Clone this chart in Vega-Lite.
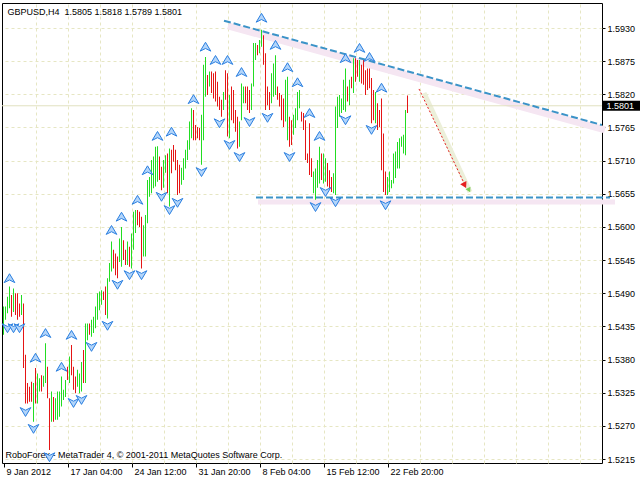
{
"$schema": "https://vega.github.io/schema/vega-lite/v6.json",
"width": 600, "height": 460,
"autosize": {"type": "none"},
"padding": {"left": 2, "top": 3, "right": 38, "bottom": 17},
"background": "white",
"config": {
  "view": {"stroke": "black", "strokeWidth": 1},
  "scale": {"continuousPadding": 0},
  "axis": {"labelFont": "Liberation Sans", "labelFontSize": 9, "labelColor": "black", "titleFont": "Liberation Sans", "titleFontSize": 9, "titleFontWeight": "normal", "titleColor": "black", "gridColor": "#e6e6c3", "gridDash": [3, 3], "gridOpacity": 1, "tickColor": "black", "domain": false}
},
"datasets": {
  "bars": [
{"i":0,"h":1.5468,"l":1.5421,"d":"u"},{"i":1,"h":1.5468,"l":1.5446,"d":"u"},{"i":2,"h":1.5484,"l":1.5457,"d":"u"},{"i":3,"h":1.5501,"l":1.5465,"d":"u"},{"i":4,"h":1.5487,"l":1.5451,"d":"d"},{"i":5,"h":1.5498,"l":1.5459,"d":"u"},{"i":6,"h":1.549,"l":1.5454,"d":"d"},{"i":7,"h":1.549,"l":1.5446,"d":"d"},{"i":8,"h":1.5473,"l":1.5451,"d":"d"},{"i":9,"h":1.5487,"l":1.5454,"d":"u"},
{"i":10,"h":1.5473,"l":1.5366,"d":"d"},{"i":11,"h":1.5388,"l":1.5307,"d":"d"},{"i":12,"h":1.5341,"l":1.5307,"d":"d"},{"i":13,"h":1.5335,"l":1.531,"d":"d"},{"i":14,"h":1.5343,"l":1.531,"d":"d"},{"i":15,"h":1.5341,"l":1.5277,"d":"u"},{"i":16,"h":1.5366,"l":1.5307,"d":"d"},{"i":17,"h":1.5357,"l":1.5307,"d":"u"},{"i":18,"h":1.5349,"l":1.5327,"d":"u"},{"i":19,"h":1.5354,"l":1.5327,"d":"d"},
{"i":20,"h":1.5353,"l":1.5335,"d":"u"},{"i":21,"h":1.5407,"l":1.5341,"d":"u"},{"i":22,"h":1.5368,"l":1.5316,"d":"d"},{"i":23,"h":1.5316,"l":1.523,"d":"d"},{"i":24,"h":1.5327,"l":1.5277,"d":"u"},{"i":25,"h":1.5318,"l":1.5277,"d":"d"},{"i":26,"h":1.5316,"l":1.528,"d":"u"},{"i":27,"h":1.5327,"l":1.528,"d":"u"},{"i":28,"h":1.5327,"l":1.5285,"d":"u"},{"i":29,"h":1.5352,"l":1.5302,"d":"u"},
{"i":30,"h":1.533,"l":1.5313,"d":"u"},{"i":31,"h":1.5346,"l":1.5318,"d":"u"},{"i":32,"h":1.5368,"l":1.5346,"d":"d"},{"i":33,"h":1.5385,"l":1.5341,"d":"u"},{"i":34,"h":1.5404,"l":1.5354,"d":"d"},{"i":35,"h":1.5368,"l":1.533,"d":"d"},{"i":36,"h":1.5352,"l":1.5324,"d":"d"},{"i":37,"h":1.5363,"l":1.5335,"d":"u"},{"i":38,"h":1.5357,"l":1.5324,"d":"u"},{"i":39,"h":1.5376,"l":1.5327,"d":"u"},
{"i":40,"h":1.5396,"l":1.5341,"d":"d"},{"i":41,"h":1.544,"l":1.5341,"d":"u"},{"i":42,"h":1.544,"l":1.5412,"d":"u"},{"i":43,"h":1.544,"l":1.5421,"d":"d"},{"i":44,"h":1.5446,"l":1.5418,"d":"u"},{"i":45,"h":1.5451,"l":1.5424,"d":"u"},{"i":46,"h":1.5468,"l":1.5432,"d":"u"},{"i":47,"h":1.549,"l":1.5446,"d":"u"},{"i":48,"h":1.5493,"l":1.5462,"d":"u"},{"i":49,"h":1.5495,"l":1.5471,"d":"u"},
{"i":50,"h":1.5493,"l":1.5479,"d":"d"},{"i":51,"h":1.5501,"l":1.5454,"d":"d"},{"i":52,"h":1.5515,"l":1.5448,"d":"u"},{"i":53,"h":1.554,"l":1.5509,"d":"u"},{"i":54,"h":1.5576,"l":1.5526,"d":"u"},{"i":55,"h":1.5562,"l":1.5531,"d":"d"},{"i":56,"h":1.5556,"l":1.552,"d":"d"},{"i":57,"h":1.5551,"l":1.5515,"d":"d"},{"i":58,"h":1.5581,"l":1.5542,"d":"u"},{"i":59,"h":1.56,"l":1.5534,"d":"u"},
{"i":60,"h":1.5578,"l":1.5545,"d":"d"},{"i":61,"h":1.5562,"l":1.5537,"d":"d"},{"i":62,"h":1.5576,"l":1.5537,"d":"u"},{"i":63,"h":1.5567,"l":1.5534,"d":"d"},{"i":64,"h":1.5589,"l":1.5531,"d":"u"},{"i":65,"h":1.5625,"l":1.5562,"d":"u"},{"i":66,"h":1.5628,"l":1.559,"d":"u"},{"i":67,"h":1.5628,"l":1.5603,"d":"d"},{"i":68,"h":1.5625,"l":1.56,"d":"d"},{"i":69,"h":1.5617,"l":1.5531,"d":"d"},
{"i":70,"h":1.5603,"l":1.5551,"d":"u"},{"i":71,"h":1.562,"l":1.5551,"d":"u"},{"i":72,"h":1.5678,"l":1.5606,"d":"u"},{"i":73,"h":1.5683,"l":1.565,"d":"u"},{"i":74,"h":1.5711,"l":1.5656,"d":"u"},{"i":75,"h":1.5717,"l":1.5664,"d":"u"},{"i":76,"h":1.5733,"l":1.5667,"d":"u"},{"i":77,"h":1.5734,"l":1.5675,"d":"u"},{"i":78,"h":1.5717,"l":1.5678,"d":"d"},{"i":79,"h":1.57,"l":1.5661,"d":"d"},
{"i":80,"h":1.5711,"l":1.5665,"d":"u"},{"i":81,"h":1.5719,"l":1.569,"d":"u"},{"i":82,"h":1.5722,"l":1.5656,"d":"d"},{"i":83,"h":1.573,"l":1.5634,"d":"u"},{"i":84,"h":1.5728,"l":1.5689,"d":"d"},{"i":85,"h":1.5736,"l":1.5708,"d":"d"},{"i":86,"h":1.5728,"l":1.5694,"d":"d"},{"i":87,"h":1.5711,"l":1.5653,"d":"d"},{"i":88,"h":1.5703,"l":1.5656,"d":"d"},{"i":89,"h":1.5698,"l":1.567,"d":"u"},
{"i":90,"h":1.5714,"l":1.5678,"d":"u"},{"i":91,"h":1.5728,"l":1.5697,"d":"u"},{"i":92,"h":1.5744,"l":1.5711,"d":"u"},{"i":93,"h":1.5775,"l":1.5728,"d":"u"},{"i":94,"h":1.5797,"l":1.5747,"d":"u"},{"i":95,"h":1.5794,"l":1.5744,"d":"d"},{"i":96,"h":1.5769,"l":1.5744,"d":"d"},{"i":97,"h":1.5766,"l":1.5747,"d":"d"},{"i":98,"h":1.5764,"l":1.5744,"d":"d"},{"i":99,"h":1.5786,"l":1.5703,"d":"u"},
{"i":100,"h":1.5869,"l":1.5744,"d":"u"},{"i":101,"h":1.5882,"l":1.5816,"d":"u"},{"i":102,"h":1.5852,"l":1.5819,"d":"d"},{"i":103,"h":1.5858,"l":1.5833,"d":"u"},{"i":104,"h":1.5858,"l":1.5822,"d":"d"},{"i":105,"h":1.5855,"l":1.5813,"d":"d"},{"i":106,"h":1.5858,"l":1.5808,"d":"d"},{"i":107,"h":1.5841,"l":1.58,"d":"d"},{"i":108,"h":1.5816,"l":1.5794,"d":"d"},{"i":109,"h":1.5811,"l":1.5783,"d":"d"},
{"i":110,"h":1.5824,"l":1.5794,"d":"u"},{"i":111,"h":1.586,"l":1.5811,"d":"d"},{"i":112,"h":1.5855,"l":1.575,"d":"d"},{"i":113,"h":1.5819,"l":1.5747,"d":"u"},{"i":114,"h":1.5833,"l":1.5777,"d":"d"},{"i":115,"h":1.5827,"l":1.5772,"d":"d"},{"i":116,"h":1.5794,"l":1.5758,"d":"d"},{"i":117,"h":1.5783,"l":1.573,"d":"d"},{"i":118,"h":1.5775,"l":1.5733,"d":"u"},{"i":119,"h":1.5838,"l":1.5777,"d":"u"},
{"i":120,"h":1.5833,"l":1.5805,"d":"u"},{"i":121,"h":1.5833,"l":1.5805,"d":"d"},{"i":122,"h":1.5833,"l":1.5794,"d":"d"},{"i":123,"h":1.5827,"l":1.5789,"d":"d"},{"i":124,"h":1.5838,"l":1.5794,"d":"u"},{"i":125,"h":1.5905,"l":1.5833,"d":"u"},{"i":126,"h":1.5905,"l":1.5877,"d":"u"},{"i":127,"h":1.5902,"l":1.5885,"d":"d"},{"i":128,"h":1.591,"l":1.5888,"d":"u"},{"i":129,"h":1.5927,"l":1.5899,"d":"u"},
{"i":130,"h":1.5918,"l":1.5869,"d":"d"},{"i":131,"h":1.5888,"l":1.5794,"d":"d"},{"i":132,"h":1.5833,"l":1.5802,"d":"d"},{"i":133,"h":1.5824,"l":1.5794,"d":"d"},{"i":134,"h":1.5855,"l":1.5805,"d":"u"},{"i":135,"h":1.5871,"l":1.5816,"d":"u"},{"i":136,"h":1.5885,"l":1.5819,"d":"u"},{"i":137,"h":1.5833,"l":1.5811,"d":"d"},{"i":138,"h":1.5822,"l":1.58,"d":"d"},{"i":139,"h":1.5819,"l":1.5777,"d":"d"},
{"i":140,"h":1.5813,"l":1.5766,"d":"d"},{"i":141,"h":1.5844,"l":1.5775,"d":"u"},{"i":142,"h":1.5849,"l":1.5744,"d":"u"},{"i":143,"h":1.5783,"l":1.5733,"d":"d"},{"i":144,"h":1.5777,"l":1.5736,"d":"d"},{"i":145,"h":1.5786,"l":1.5753,"d":"u"},{"i":146,"h":1.5797,"l":1.5764,"d":"u"},{"i":147,"h":1.5824,"l":1.5777,"d":"u"},{"i":148,"h":1.5827,"l":1.5797,"d":"u"},{"i":149,"h":1.5791,"l":1.5775,"d":"d"},
{"i":150,"h":1.5789,"l":1.5761,"d":"d"},{"i":151,"h":1.5777,"l":1.5711,"d":"d"},{"i":152,"h":1.5722,"l":1.5706,"d":"d"},{"i":153,"h":1.5772,"l":1.5686,"d":"d"},{"i":154,"h":1.5714,"l":1.5683,"d":"d"},{"i":155,"h":1.5692,"l":1.5656,"d":"u"},{"i":156,"h":1.5697,"l":1.5645,"d":"u"},{"i":157,"h":1.5711,"l":1.5665,"d":"u"},{"i":158,"h":1.5733,"l":1.5672,"d":"u"},{"i":159,"h":1.5722,"l":1.5678,"d":"d"},
{"i":160,"h":1.5722,"l":1.5672,"d":"u"},{"i":161,"h":1.5714,"l":1.5675,"d":"u"},{"i":162,"h":1.5706,"l":1.5667,"d":"d"},{"i":163,"h":1.5694,"l":1.5664,"d":"d"},{"i":164,"h":1.5683,"l":1.5658,"d":"d"},{"i":165,"h":1.5689,"l":1.5656,"d":"u"},{"i":166,"h":1.58,"l":1.5653,"d":"u"},{"i":167,"h":1.5816,"l":1.5764,"d":"u"},{"i":168,"h":1.5819,"l":1.5783,"d":"u"},{"i":169,"h":1.5813,"l":1.5789,"d":"u"},
{"i":170,"h":1.5844,"l":1.5794,"d":"u"},{"i":171,"h":1.5863,"l":1.5791,"d":"u"},{"i":172,"h":1.5833,"l":1.5808,"d":"d"},{"i":173,"h":1.5844,"l":1.5802,"d":"u"},{"i":174,"h":1.5849,"l":1.583,"d":"d"},{"i":175,"h":1.588,"l":1.5822,"d":"u"},{"i":176,"h":1.588,"l":1.5841,"d":"d"},{"i":177,"h":1.5877,"l":1.5849,"d":"d"},{"i":178,"h":1.5877,"l":1.5841,"d":"u"},{"i":179,"h":1.5869,"l":1.5838,"d":"d"},
{"i":180,"h":1.5877,"l":1.5836,"d":"d"},{"i":181,"h":1.586,"l":1.5819,"d":"d"},{"i":182,"h":1.5863,"l":1.5827,"d":"d"},{"i":183,"h":1.5863,"l":1.583,"d":"d"},{"i":184,"h":1.5847,"l":1.5772,"d":"d"},{"i":185,"h":1.5827,"l":1.5777,"d":"d"},{"i":186,"h":1.5824,"l":1.5772,"d":"u"},{"i":187,"h":1.5805,"l":1.5761,"d":"d"},{"i":188,"h":1.5794,"l":1.5766,"d":"d"},{"i":189,"h":1.5813,"l":1.5694,"d":"d"},
{"i":190,"h":1.5755,"l":1.5658,"d":"d"},{"i":191,"h":1.5692,"l":1.5653,"d":"d"},{"i":192,"h":1.5683,"l":1.5653,"d":"u"},{"i":193,"h":1.5692,"l":1.5658,"d":"u"},{"i":194,"h":1.5678,"l":1.5664,"d":"u"},{"i":195,"h":1.5722,"l":1.5672,"d":"u"},{"i":196,"h":1.5725,"l":1.5681,"d":"u"},{"i":197,"h":1.5741,"l":1.5697,"d":"u"},{"i":198,"h":1.5747,"l":1.5697,"d":"u"},{"i":199,"h":1.575,"l":1.5733,"d":"u"},
{"i":200,"h":1.5753,"l":1.5722,"d":"u"},{"i":201,"h":1.5794,"l":1.5719,"d":"u"},{"i":202,"h":1.5818,"l":1.5789,"d":"d"}
  ],
  "fractals": [
{"i":3,"p":1.5515,"t":"up"},{"i":16,"p":1.5383,"t":"up"},{"i":21,"p":1.5424,"t":"up"},{"i":29,"p":1.5368,"t":"up"},{"i":34,"p":1.5421,"t":"up"},{"i":54,"p":1.5595,"t":"up"},{"i":59,"p":1.5617,"t":"up"},{"i":67,"p":1.5645,"t":"up"},{"i":72,"p":1.5694,"t":"up"},{"i":77,"p":1.5751,"t":"up"},{"i":84,"p":1.5758,"t":"up"},{"i":95,"p":1.5812,"t":"up"},{"i":101,"p":1.5899,"t":"up"},{"i":106,"p":1.5877,"t":"up"},{"i":112,"p":1.5877,"t":"up"},{"i":119,"p":1.5857,"t":"up"},{"i":129,"p":1.5947,"t":"up"},{"i":136,"p":1.5902,"t":"up"},{"i":142,"p":1.5865,"t":"up"},{"i":147,"p":1.584,"t":"up"},{"i":153,"p":1.5789,"t":"up"},{"i":158,"p":1.5751,"t":"up"},{"i":171,"p":1.588,"t":"up"},{"i":178,"p":1.5897,"t":"up"},{"i":183,"p":1.5882,"t":"up"},{"i":189,"p":1.5831,"t":"up"},
{"i":2,"p":1.5432,"t":"dn"},{"i":5,"p":1.5432,"t":"dn"},{"i":8,"p":1.5432,"t":"dn"},{"i":11,"p":1.5293,"t":"dn"},{"i":15,"p":1.5265,"t":"dn"},{"i":23,"p":1.5218,"t":"dn"},{"i":35,"p":1.5308,"t":"dn"},{"i":39,"p":1.5313,"t":"dn"},{"i":44,"p":1.5401,"t":"dn"},{"i":52,"p":1.5436,"t":"dn"},{"i":57,"p":1.5504,"t":"dn"},{"i":63,"p":1.552,"t":"dn"},{"i":69,"p":1.552,"t":"dn"},{"i":79,"p":1.565,"t":"dn"},{"i":83,"p":1.5628,"t":"dn"},{"i":87,"p":1.564,"t":"dn"},{"i":99,"p":1.5691,"t":"dn"},{"i":108,"p":1.5772,"t":"dn"},{"i":113,"p":1.5736,"t":"dn"},{"i":118,"p":1.5716,"t":"dn"},{"i":123,"p":1.5774,"t":"dn"},{"i":132,"p":1.5781,"t":"dn"},{"i":143,"p":1.5716,"t":"dn"},{"i":156,"p":1.5633,"t":"dn"},{"i":161,"p":1.5658,"t":"dn"},{"i":166,"p":1.5641,"t":"dn"},{"i":171,"p":1.5777,"t":"dn"},{"i":184,"p":1.5761,"t":"dn"},{"i":191,"p":1.5636,"t":"dn"}
  ],
  "lines": [
    {"k": "resband", "x1": 112.25, "p1": 1.59337, "x2": 300.75, "p2": 1.5761},
    {"k": "supband", "x1": 127.25, "p1": 1.56414, "x2": 305.75, "p2": 1.56414},
    {"k": "fcband", "x1": 210.25, "p1": 1.58222, "x2": 233.25, "p2": 1.5658},
    {"k": "res", "x1": 110.25, "p1": 1.59422, "x2": 299.25, "p2": 1.57691},
    {"k": "sup", "x1": 126.25, "p1": 1.56489, "x2": 303.25, "p2": 1.56489},
    {"k": "fc", "x1": 207.75, "p1": 1.58289, "x2": 230.25, "p2": 1.56729}
  ],
  "heads": [{"k": "green", "i": 232.8, "p": 1.5661}, {"k": "red", "i": 230.6, "p": 1.5669}],
  "last": [{"p": 1.5801}]
},
"resolve": {"axis": {"x": "independent", "y": "independent"}},
"layer": [
  {
    "data": {"name": "lines"},
    "transform": [{"filter": "datum.k === 'resband'"}],
    "mark": {"type": "rule", "color": "#f5e6f2", "strokeWidth": 7, "clip": false},
    "encoding": {
      "x": {"field": "x1", "type": "quantitative", "scale": {"domain": [-0.75, 299.25], "nice": false, "zero": false, "padding": 0},
        "axis": {"orient": "top", "values": [16.25, 32.25, 48.25, 64.25, 80.25, 96.25, 112.25, 128.25, 144.25, 160.25, 176.25, 192.25, 208.25, 224.25, 240.25, 256.25, 272.25, 288.25], "grid": true, "ticks": false, "labels": false, "title": "GBPUSD,H4\u00a0\u00a01.5805 1.5818 1.5789 1.5801", "titleX": 5, "titleY": 11, "titleAlign": "left", "titleBaseline": "alphabetic", "titleAnchor": "start"}},
      "x2": {"field": "x2"},
      "y": {"field": "p1", "type": "quantitative", "scale": {"domain": [1.52084, 1.59715], "nice": false, "zero": false, "padding": 0},
        "axis": {"orient": "right", "values": [1.5215, 1.527, 1.5325, 1.538, 1.5435, 1.549, 1.5545, 1.56, 1.5655, 1.571, 1.5765, 1.582, 1.5875, 1.593], "format": ".4f", "grid": true, "tickSize": 3, "labelPadding": 2, "title": null}},
      "y2": {"field": "p2"}
    }
  },
  {
    "data": {"name": "lines"},
    "transform": [{"filter": "datum.k === 'supband'"}],
    "mark": {"type": "rule", "color": "#f5e6f2", "strokeWidth": 5, "clip": false},
    "encoding": {
      "x": {"field": "x1", "type": "quantitative", "scale": {"domain": [-0.75, 299.25], "nice": false, "zero": false, "padding": 0}, "axis": null},
      "x2": {"field": "x2"},
      "y": {"field": "p1", "type": "quantitative", "scale": {"domain": [1.52084, 1.59715], "nice": false, "zero": false, "padding": 0}, "axis": null},
      "y2": {"field": "p2"}
    }
  },
  {
    "data": {"name": "lines"},
    "transform": [{"filter": "datum.k === 'fcband'"}],
    "mark": {"type": "rule", "color": "#ecefd9", "strokeWidth": 5},
    "encoding": {
      "x": {"field": "x1", "type": "quantitative", "scale": {"domain": [-0.75, 299.25], "nice": false, "zero": false, "padding": 0}, "axis": null},
      "x2": {"field": "x2"},
      "y": {"field": "p1", "type": "quantitative", "scale": {"domain": [1.52084, 1.59715], "nice": false, "zero": false, "padding": 0}, "axis": null},
      "y2": {"field": "p2"}
    }
  },
  {
    "data": {"name": "last"},
    "mark": {"type": "rule", "color": "#e2e2c0", "strokeWidth": 1},
    "encoding": {
      "y": {"field": "p", "type": "quantitative", "scale": {"domain": [1.52084, 1.59715], "nice": false, "zero": false, "padding": 0}, "axis": null}
    }
  },
  {
    "data": {"name": "bars"},
    "transform": [{"filter": "datum.d === 'u'"}],
    "mark": {"type": "bar", "width": 1, "color": "#22dd22", "opacity": 1},
    "encoding": {
      "x": {"field": "i", "type": "quantitative", "scale": {"domain": [-0.75, 299.25], "nice": false, "zero": false, "padding": 0},
        "axis": {"orient": "bottom", "values": [0.25, 32.25, 64.25, 96.25, 128.25, 160.25, 192.25], "grid": false, "tickSize": 4, "labelAlign": "left", "labelBaseline": "top", "labelPadding": 0, "labelOffset": 2, "labelOverlap": false, "labelFlush": false, "labelBound": false,
          "labelExpr": "['9 Jan 2012', '17 Jan 04:00', '24 Jan 12:00', '31 Jan 20:00', '8 Feb 04:00', '15 Feb 12:00', '22 Feb 20:00'][round((datum.value - 0.25) / 32)]",
          "title": "RoboForex - MetaTrader 4, © 2001-2011 MetaQuotes Software Corp.", "titleX": 3, "titleY": -6, "titleAlign": "left", "titleBaseline": "alphabetic", "titleAnchor": "start"}},
      "y": {"field": "l", "type": "quantitative", "scale": {"domain": [1.52084, 1.59715], "nice": false, "zero": false, "padding": 0}, "axis": null},
      "y2": {"field": "h"}
    }
  },
  {
    "data": {"name": "bars"},
    "transform": [{"filter": "datum.d === 'd'"}],
    "mark": {"type": "bar", "width": 1, "color": "#e51515", "opacity": 1},
    "encoding": {
      "x": {"field": "i", "type": "quantitative", "scale": {"domain": [-0.75, 299.25], "nice": false, "zero": false, "padding": 0}, "axis": null},
      "y": {"field": "l", "type": "quantitative", "scale": {"domain": [1.52084, 1.59715], "nice": false, "zero": false, "padding": 0}, "axis": null},
      "y2": {"field": "h"}
    }
  },
  {
    "data": {"name": "lines"},
    "transform": [{"filter": "datum.k === 'fc'"}],
    "mark": {"type": "rule", "color": "#e52020", "strokeWidth": 1, "strokeDash": [2, 2]},
    "encoding": {
      "x": {"field": "x1", "type": "quantitative", "scale": {"domain": [-0.75, 299.25], "nice": false, "zero": false, "padding": 0}, "axis": null},
      "x2": {"field": "x2"},
      "y": {"field": "p1", "type": "quantitative", "scale": {"domain": [1.52084, 1.59715], "nice": false, "zero": false, "padding": 0}, "axis": null},
      "y2": {"field": "p2"}
    }
  },
  {
    "data": {"name": "lines"},
    "transform": [{"filter": "datum.k === 'res'"}],
    "mark": {"type": "rule", "color": "#3b93c8", "strokeWidth": 2, "strokeDash": [7, 3], "clip": true},
    "encoding": {
      "x": {"field": "x1", "type": "quantitative", "scale": {"domain": [-0.75, 299.25], "nice": false, "zero": false, "padding": 0}, "axis": null},
      "x2": {"field": "x2"},
      "y": {"field": "p1", "type": "quantitative", "scale": {"domain": [1.52084, 1.59715], "nice": false, "zero": false, "padding": 0}, "axis": null},
      "y2": {"field": "p2"}
    }
  },
  {
    "data": {"name": "lines"},
    "transform": [{"filter": "datum.k === 'sup'"}],
    "mark": {"type": "rule", "color": "#3b93c8", "strokeWidth": 2, "strokeDash": [7, 3], "clip": false},
    "encoding": {
      "x": {"field": "x1", "type": "quantitative", "scale": {"domain": [-0.75, 299.25], "nice": false, "zero": false, "padding": 0}, "axis": null},
      "x2": {"field": "x2"},
      "y": {"field": "p1", "type": "quantitative", "scale": {"domain": [1.52084, 1.59715], "nice": false, "zero": false, "padding": 0}, "axis": null},
      "y2": {"field": "p2"}
    }
  },
  {
    "data": {"name": "fractals"},
    "mark": {"type": "point", "filled": true, "size": 140, "fill": "#b3d5fa", "stroke": "#2a7fe0", "strokeWidth": 1, "opacity": 1},
    "encoding": {
      "x": {"field": "i", "type": "quantitative", "scale": {"domain": [-0.75, 299.25], "nice": false, "zero": false, "padding": 0}, "axis": null},
      "y": {"field": "p", "type": "quantitative", "scale": {"domain": [1.52084, 1.59715], "nice": false, "zero": false, "padding": 0}, "axis": null},
      "shape": {"field": "t", "type": "nominal", "scale": {"domain": ["up", "dn"], "range": ["M0,-0.75L0.9,0.75L0,0.3L-0.9,0.75Z", "M0,0.75L0.9,-0.75L0,-0.3L-0.9,-0.75Z"]}, "legend": null}
    }
  },
  {
    "data": {"name": "heads"},
    "transform": [{"filter": "datum.k === 'green'"}],
    "mark": {"type": "point", "shape": "triangle-down", "filled": true, "size": 30, "color": "#7ccf5a", "angle": -27, "opacity": 1},
    "encoding": {
      "x": {"field": "i", "type": "quantitative", "scale": {"domain": [-0.75, 299.25], "nice": false, "zero": false, "padding": 0}, "axis": null},
      "y": {"field": "p", "type": "quantitative", "scale": {"domain": [1.52084, 1.59715], "nice": false, "zero": false, "padding": 0}, "axis": null}
    }
  },
  {
    "data": {"name": "heads"},
    "transform": [{"filter": "datum.k === 'red'"}],
    "mark": {"type": "point", "shape": "triangle-down", "filled": true, "size": 50, "color": "#e52020", "angle": -27, "opacity": 1},
    "encoding": {
      "x": {"field": "i", "type": "quantitative", "scale": {"domain": [-0.75, 299.25], "nice": false, "zero": false, "padding": 0}, "axis": null},
      "y": {"field": "p", "type": "quantitative", "scale": {"domain": [1.52084, 1.59715], "nice": false, "zero": false, "padding": 0}, "axis": null}
    }
  },
  {
    "data": {"name": "last"},
    "mark": {"type": "rect", "color": "black", "clip": false},
    "encoding": {
      "x": {"datum": 299.75, "type": "quantitative", "scale": {"domain": [-0.75, 299.25], "nice": false, "zero": false, "padding": 0}, "axis": null},
      "x2": {"datum": 318.25},
      "y": {"datum": 1.58094, "type": "quantitative", "scale": {"domain": [1.52084, 1.59715], "nice": false, "zero": false, "padding": 0}, "axis": null},
      "y2": {"datum": 1.57928}
    }
  },
  {
    "data": {"name": "last"},
    "mark": {"type": "text", "color": "white", "font": "Liberation Sans", "fontSize": 9, "align": "left", "baseline": "middle", "clip": false},
    "encoding": {
      "x": {"datum": 301.5, "type": "quantitative", "scale": {"domain": [-0.75, 299.25], "nice": false, "zero": false, "padding": 0}, "axis": null},
      "y": {"field": "p", "type": "quantitative", "scale": {"domain": [1.52084, 1.59715], "nice": false, "zero": false, "padding": 0}, "axis": null},
      "text": {"field": "p", "type": "quantitative", "format": ".4f"}
    }
  }
]
}
